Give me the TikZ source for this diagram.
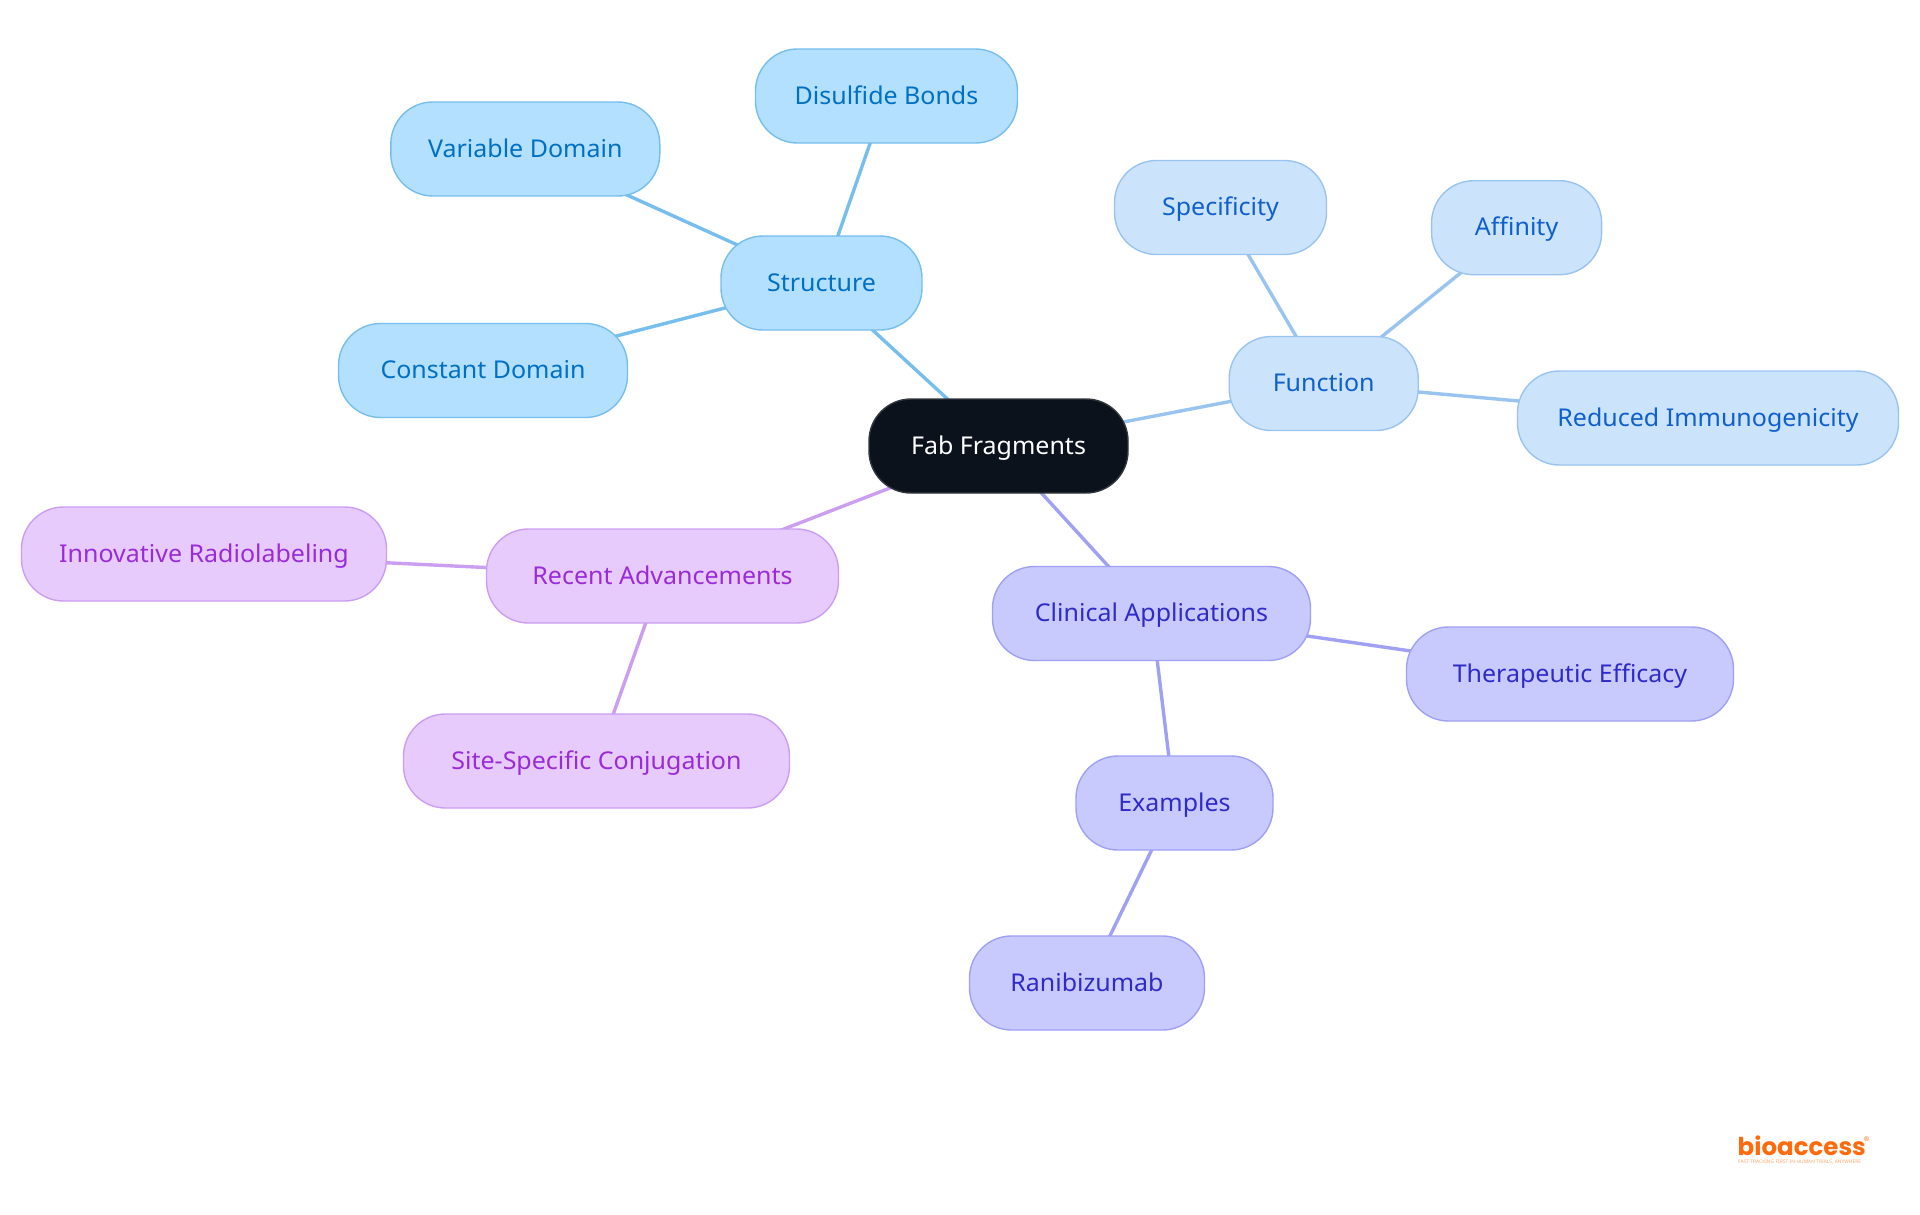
\documentclass[tikz,border=0pt]{standalone}
\usepackage{fontspec}
\setmainfont[FakeStretch=1.02]{Noto Sans}
\newfontfamily\logofont{Poppins}
\newfontfamily\regfont{Noto Sans}
\usetikzlibrary{backgrounds}
\definecolor{rootF}{HTML}{0B121B}\definecolor{rootD}{HTML}{33383F}
\definecolor{sF}{HTML}{B3E0FF}\definecolor{sD}{HTML}{76BEEE}\definecolor{sT}{HTML}{0070C4}
\definecolor{fF}{HTML}{CCE3FC}\definecolor{fD}{HTML}{99C4F0}\definecolor{fT}{HTML}{0F60CC}
\definecolor{cF}{HTML}{C8CAFD}\definecolor{cD}{HTML}{A0A0F5}\definecolor{cT}{HTML}{2F2BC8}
\definecolor{rF}{HTML}{E7CBFD}\definecolor{rD}{HTML}{CB9EF2}\definecolor{rT}{HTML}{9A2BD8}
\definecolor{logoC}{HTML}{FF6A0D}
\tikzset{
  mm/.style={rectangle,rounded corners=42pt,line width=1.4pt,minimum height=94pt,inner sep=0pt,font=\fontsize{24.5}{28}\selectfont,text height=16pt,text depth=0pt,anchor=center},
  rootn/.style={mm,fill=rootF,draw=rootD,text=white},
  sn/.style={mm,fill=sF,draw=sD,text=sT},
  fn/.style={mm,fill=fF,draw=fD,text=fT},
  cn/.style={mm,fill=cF,draw=cD,text=cT},
  rn/.style={mm,fill=rF,draw=rD,text=rT},
  link/.style={line width=3.4pt},
}
\begin{document}
\begin{tikzpicture}[x=1pt,y=-1pt]
\useasboundingbox (0,0) rectangle (1920,1215);
\node[rootn,minimum width=259pt] (fab) at (998.5,446) {Fab Fragments};
\node[sn,minimum width=201pt] (structure) at (821.5,283) {Structure};
\node[sn,minimum width=262pt] (disulfide) at (886.5,96) {Disulfide Bonds};
\node[sn,minimum width=269pt] (variable) at (525.3,149) {Variable Domain};
\node[sn,minimum width=289pt] (constant) at (483,370.5) {Constant Domain};
\node[fn,minimum width=189pt] (function) at (1323.7,383.5) {Function};
\node[fn,minimum width=212pt] (specificity) at (1220.5,207.5) {Specificity};
\node[fn,minimum width=170pt] (affinity) at (1516.6,227.7) {Affinity};
\node[fn,minimum width=381pt] (reduced) at (1708,418) {Reduced Immunogenicity};
\node[cn,minimum width=318pt] (clinical) at (1151.5,613.5) {Clinical Applications};
\node[cn,minimum width=327pt] (therapeutic) at (1570,674) {Therapeutic Efficacy};
\node[cn,minimum width=197pt] (examples) at (1174.5,803) {Examples};
\node[cn,minimum width=235pt] (ranibizumab) at (1087,983) {Ranibizumab};
\node[rn,minimum width=352pt] (recent) at (662.5,576) {Recent Advancements};
\node[rn,minimum width=365pt] (innovative) at (204,554) {Innovative Radiolabeling};
\node[rn,minimum width=386pt] (site) at (596.5,761) {Site-Specific Conjugation};
\begin{scope}[on background layer]
\draw[link,sD] (fab.center) -- (structure.center);
\draw[link,sD] (structure.center) -- (disulfide.center);
\draw[link,sD] (structure.center) -- (variable.center);
\draw[link,sD] (structure.center) -- (constant.center);
\draw[link,fD] (fab.center) -- (function.center);
\draw[link,fD] (function.center) -- (specificity.center);
\draw[link,fD] (function.center) -- (affinity.center);
\draw[link,fD] (function.center) -- (reduced.center);
\draw[link,cD] (fab.center) -- (clinical.center);
\draw[link,cD] (clinical.center) -- (therapeutic.center);
\draw[link,cD] (clinical.center) -- (examples.center);
\draw[link,cD] (examples.center) -- (ranibizumab.center);
\draw[link,rD] (fab.center) -- (recent.center);
\draw[link,rD] (recent.center) -- (innovative.center);
\draw[link,rD] (recent.center) -- (site.center);
\end{scope}
\node[inner sep=0pt,anchor=base west,text=logoC,font=\logofont\bfseries\fontsize{24.5}{28}\selectfont] (logo) at (1737.5,1155) {bioaccess};
\node[inner sep=0pt,anchor=center,text=logoC,font=\regfont\fontsize{6.5}{8}\selectfont] (reg) at (1866.5,1139) {®};
\node[inner sep=0pt,anchor=base west,text=logoC!60,font=\regfont\fontsize{4.9}{5}\selectfont] (tag) at (1738,1163.5) {FAST-TRACKING FIRST-IN-HUMAN TRIALS, ANYWHERE};
\end{tikzpicture}
\end{document}
